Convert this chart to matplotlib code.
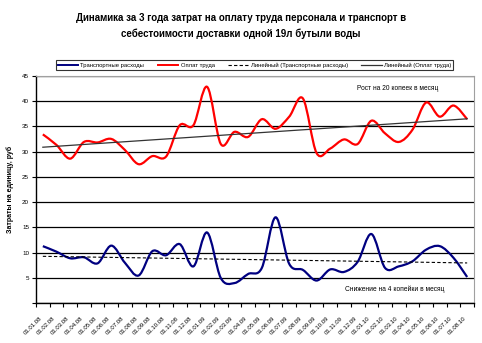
import numpy as np
import matplotlib
matplotlib.use("Agg")
import matplotlib.pyplot as plt
from matplotlib.path import Path
from matplotlib.patches import PathPatch
from matplotlib.lines import Line2D

plt.rcParams['font.family'] = ['Liberation Sans Narrow', 'Liberation Sans', 'DejaVu Sans']

# months 01.01.08 .. 01.08.10
dates = ['01.%02d.%02d' % (m, y) for y in (8, 9, 10) for m in range(1, 13)][:32]

transport = [11.3, 10.2, 8.9, 9.1, 7.9, 11.4, 8.0, 5.5, 10.3, 9.5, 11.7, 7.3,
             14.0, 5.0, 4.0, 5.8, 7.0, 17.0, 7.8, 6.6, 4.5, 6.7, 6.2, 8.2,
             13.7, 7.0, 7.3, 8.3, 10.6, 11.3, 9.0, 5.2]
salary = [33.4, 31.3, 28.6, 31.9, 31.8, 32.5, 30.3, 27.5, 29.1, 29.0, 35.2, 35.2,
          42.8, 31.5, 33.9, 32.9, 36.4, 34.5, 36.9, 40.5, 29.7, 30.6, 32.4, 31.5,
          36.1, 33.6, 31.9, 34.3, 39.7, 36.9, 39.1, 36.4]

label_transport = 'Транспортные расходы'
label_salary = 'Оплат труда'


def smooth_path(x, y):
    # excel-like smoothed line: cubic bezier through every point
    x = np.asarray(x, float)
    y = np.asarray(y, float)
    px = np.r_[x[0], x, x[-1]]
    py = np.r_[y[0], y, y[-1]]
    verts = [(x[0], y[0])]
    codes = [Path.MOVETO]
    for i in range(1, len(x)):
        c1 = (px[i] + (px[i + 1] - px[i - 1]) / 6, py[i] + (py[i + 1] - py[i - 1]) / 6)
        c2 = (px[i + 1] - (px[i + 2] - px[i]) / 6, py[i + 1] - (py[i + 2] - py[i]) / 6)
        verts += [c1, c2, (px[i + 1], py[i + 1])]
        codes += [Path.CURVE4] * 3
    return Path(verts, codes)


fig = plt.figure(figsize=(4.82, 3.43), dpi=100)
ax = fig.add_axes([36 / 482, 1 - 303.3 / 343, (474 - 36) / 482, (303.3 - 75.7) / 343])

x = np.arange(len(dates))

ax.add_patch(PathPatch(smooth_path(x, transport), fill=False, ec='#000080', lw=1.6, zorder=3))
ax.add_patch(PathPatch(smooth_path(x, salary), fill=False, ec='#ff0000', lw=1.6, zorder=3))

kt = np.polyfit(x, transport, 1)
ks = np.polyfit(x, salary, 1)
ax.plot(x, np.polyval(kt, x), ls=(0, (3, 2)), color='black', lw=0.8, zorder=4)
ax.plot(x, np.polyval(ks, x), color='#333333', lw=0.9, zorder=4)

ax.set_xlim(-0.5, len(dates) - 0.5)
ax.set_ylim(0, 45)
ax.set_yticks(range(0, 50, 5))
ax.set_yticklabels([str(v) if v else '' for v in range(0, 50, 5)])
ax.yaxis.grid(True, color='black', lw=0.9)
ax.set_axisbelow(True)

ax.set_xticks(x)
ax.set_xticklabels(dates, rotation=45, ha='right', va='top', fontsize=4.3)
ax.set_xticks(np.arange(len(dates) + 1) - 0.5, minor=True)
ax.tick_params(axis='x', which='major', length=0, pad=9)
ax.tick_params(axis='x', which='minor', length=3, width=0.8)
ax.tick_params(axis='y', labelsize=4.5, length=3, width=0.8, pad=2)

for s in ('top', 'right'):
    ax.spines[s].set_color('#a0a0a0')
for s in ('left', 'bottom'):
    ax.spines[s].set_linewidth(1.0)

ax.set_ylabel('Затраты на единицу, руб', fontsize=5, fontweight='bold', labelpad=6)

ax.text(25.9, 42.4, 'Рост на 20 копеек в месяц', fontsize=4.8, ha='center', va='center')
ax.text(25.7, 2.8, 'Снижение на 4 копейки в месяц', fontsize=4.8, ha='center', va='center')

fig.text(241 / 482, 1 - 26 / 343, 'Динамика за 3 года затрат на оплату труда персонала и транспорт в\n'
         'себестоимости доставки одной 19л бутыли воды',
         ha='center', va='center', fontsize=7, fontweight='bold', linespacing=1.6)

handles = [Line2D([], [], color='#000080', lw=1.4),
           Line2D([], [], color='#ff0000', lw=1.4),
           Line2D([], [], color='black', lw=0.8, ls=(0, (3, 2))),
           Line2D([], [], color='#333333', lw=0.9)]
labels = [label_transport, label_salary,
          'Линейный (' + label_transport + ')', 'Линейный (' + label_salary + ')']
leg = fig.legend(handles, labels, ncol=4, loc='center', bbox_to_anchor=(254.5 / 482, 1 - 65 / 343),
                 fontsize=4.2, frameon=True, fancybox=False, edgecolor='black',
                 handlelength=3.5, handletextpad=0.4, columnspacing=2.3, borderpad=0.35)
leg.get_frame().set_linewidth(0.8)

fig.savefig('out.png', dpi=100)
